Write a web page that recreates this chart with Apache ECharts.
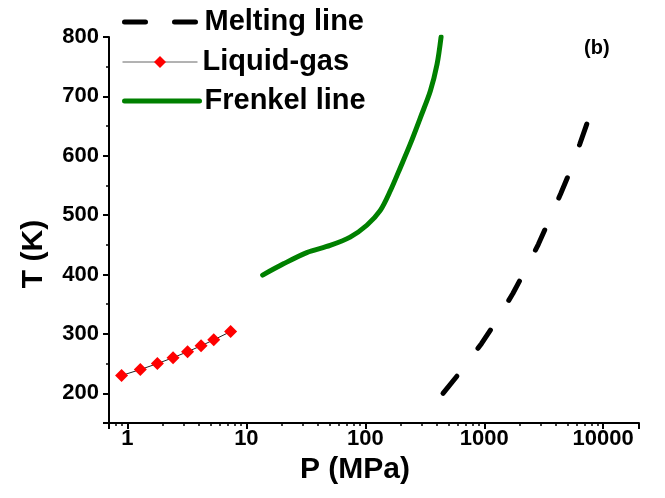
<!DOCTYPE html>
<html>
<head>
<meta charset="utf-8">
<script src="https://cdn.jsdelivr.net/npm/echarts@6/dist/echarts.min.js"></script>
<style>html,body{margin:0;padding:0;background:#fff;}#c{width:665px;height:498px;}</style>
</head>
<body>
<div id="c"></div>
<script>
// Liquid-gas coexistence points
const pressureLG = [0.893, 1.283, 1.785, 2.419, 3.203, 4.161, 5.318, 7.377];
const tempLG = [230, 240, 250, 260, 270, 280, 290, 304];
// Melting line
const pressureMelt = [450, 630, 950, 1260, 1740, 2170, 2850, 3450, 4390, 5220, 6340, 7360];
const tempMelt = [200, 236, 284, 321, 368, 404, 451, 488, 536, 572, 619, 656];
// Frenkel line
const pressureFrenkel = [13.7, 20.5, 32.2, 50.6, 74.6, 103, 133.7, 162.3, 196.9, 238.9, 290.1, 352.1, 401, 433.5];
const tempFrenkel = [399, 418, 437, 449, 463, 483, 508, 541, 580, 620, 664, 709, 754, 800];
const xTicks = [1, 10, 100, 1000, 10000];
const yTicks = [200, 300, 400, 500, 600, 700, 800];

const FONT = 'Arial, "Liberation Sans", sans-serif';
const zip = (a, b) => a.map((v, i) => [v, b[i]]);

const chart = echarts.init(document.getElementById('c'), null, {renderer: 'canvas'});
const legendText = {fontFamily: FONT, fontSize: 29, fontWeight: 'bold', color: '#000', lineHeight: 30};
const hidden = {color: 'rgba(0,0,0,0)', borderWidth: 0, opacity: 0};
chart.setOption({
  animation: false,
  backgroundColor: '#fff',
  title: {text: '(b)', left: 584, top: 38, padding: 0, textStyle: {fontFamily: FONT, fontSize: 20, fontWeight: 'bold', color: '#000'}},
  grid: {left: 109, right: 26, top: 37, bottom: 75},
  legend: [
    {data: [{name: 'Melting line', itemStyle: hidden}], left: 122, top: 7, padding: 0, itemWidth: 75, itemHeight: 15, textStyle: legendText,
     lineStyle: {width: 5, type: [21, 29], cap: 'round', color: '#000'}},
    {data: ['Liquid-gas'], left: 122, top: 47, padding: 0, itemWidth: 75, itemHeight: 15, textStyle: legendText,
     lineStyle: {width: 1, color: '#666'}},
    {data: [{name: 'Frenkel line', itemStyle: hidden}], left: 122, top: 86, padding: 0, itemWidth: 75, itemHeight: 15, textStyle: legendText,
     lineStyle: {width: 5, color: '#008000', cap: 'round'}}
  ],
  xAxis: {
    type: 'log', logBase: 10, min: 0.7, max: 20000,
    name: 'P (MPa)', nameLocation: 'middle', nameGap: 22,
    nameTextStyle: {fontFamily: FONT, fontSize: 30, fontWeight: 'bold', color: '#000', padding: [0, 38, 0, 0]},
    axisLine: {lineStyle: {color: '#000', width: 2}},
    axisTick: {show: true, inside: false, length: 6, lineStyle: {width: 2, color: '#000'}},
    minorTick: {show: true, splitNumber: 9, length: 3, lineStyle: {width: 1.5, color: '#000'}},
    splitLine: {show: false},
    axisLabel: {showMinLabel: false, showMaxLabel: false, margin: 5, fontFamily: FONT, fontSize: 22, fontWeight: 'bold', color: '#000',
      formatter: v => (xTicks.indexOf(Math.round(v)) >= 0 && Math.abs(v - Math.round(v)) < 1e-6) ? String(Math.round(v)) : ''}
  },
  yAxis: {
    type: 'value', min: 150, max: 800,
    name: 'T (K)', nameLocation: 'middle', nameGap: 60,
    nameTextStyle: {fontFamily: FONT, fontSize: 30, fontWeight: 'bold', color: '#000', padding: [0, 48, 0, 0]},
    axisLine: {show: true, lineStyle: {color: '#000', width: 2}},
    axisTick: {show: true, inside: false, length: 6, lineStyle: {width: 2, color: '#000'}},
    minorTick: {show: true, splitNumber: 2, length: 3, lineStyle: {width: 1.5, color: '#000'}},
    splitLine: {show: false},
    axisLabel: {showMinLabel: false, margin: 10, fontFamily: FONT, fontSize: 22, fontWeight: 'bold', color: '#000',
      formatter: v => yTicks.indexOf(v) >= 0 ? String(v) : ''}
  },
  series: [
    {name: 'Melting line', type: 'line', data: zip(pressureMelt, tempMelt), showSymbol: false, symbol: 'none',
     lineStyle: {color: '#000', width: 5, type: [22, 35], cap: 'round'}, itemStyle: {color: '#000'}},
    {name: 'Liquid-gas', type: 'line', data: zip(pressureLG, tempLG), symbol: 'diamond', symbolSize: 13,
     lineStyle: {color: '#222', width: 1}, itemStyle: {color: '#ff0000'}},
    {name: 'Frenkel line', type: 'line', data: zip(pressureFrenkel, tempFrenkel), symbol: 'none', smooth: 0.3,
     lineStyle: {color: '#008000', width: 5, cap: 'round'}, itemStyle: {color: '#008000'}}
  ]
});
</script>
</body>
</html>
